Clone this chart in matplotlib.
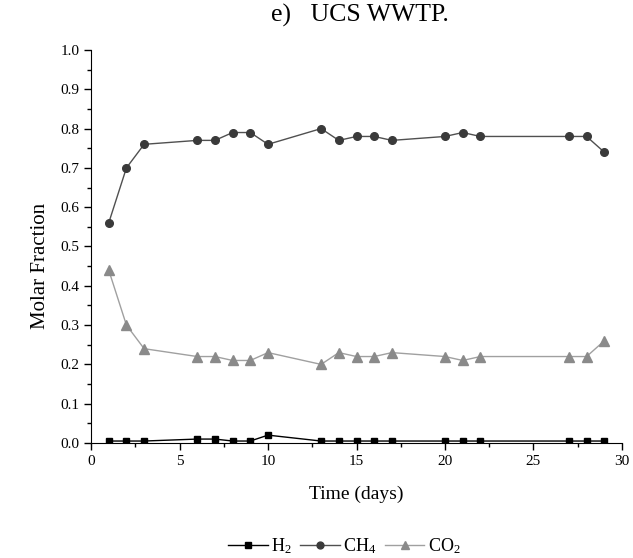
import matplotlib
matplotlib.use("Agg")
import matplotlib.pyplot as plt
from matplotlib.ticker import MultipleLocator

days = [1, 2, 3, 6, 7, 8, 9, 10, 13, 14, 15, 16, 17, 20, 21, 22, 27, 28, 29]
h2 = [0.005, 0.005, 0.005, 0.01, 0.01, 0.005, 0.005, 0.02, 0.005, 0.005, 0.005, 0.005, 0.005,
      0.005, 0.005, 0.005, 0.005, 0.005, 0.005]
ch4 = [0.56, 0.70, 0.76, 0.77, 0.77, 0.79, 0.79, 0.76, 0.80, 0.77, 0.78, 0.78, 0.77,
       0.78, 0.79, 0.78, 0.78, 0.78, 0.74]
co2 = [0.44, 0.30, 0.24, 0.22, 0.22, 0.21, 0.21, 0.23, 0.20, 0.23, 0.22, 0.22, 0.23,
       0.22, 0.21, 0.22, 0.22, 0.22, 0.26]
labels = ["H$_2$", "CH$_4$", "CO$_2$"]

plt.rcParams['font.family'] = ['Liberation Serif', 'DejaVu Serif']
plt.rcParams['mathtext.fontset'] = 'custom'
plt.rcParams['mathtext.rm'] = 'Liberation Serif'
plt.rcParams['mathtext.it'] = 'Liberation Serif:italic'

fig = plt.figure(figsize=(6.33, 5.58), dpi=100)
ax = fig.add_axes([0.1438, 0.2061, 0.8388, 0.7043])

ax.plot(days, h2, '-s', color='black', lw=1, ms=4.5, label=labels[0])
ax.plot(days, ch4, '-o', color='#505050', mfc='#3a3a3a', mec='#3a3a3a', lw=1, ms=5.5, label=labels[1])
ax.plot(days, co2, '-^', color='#a0a0a0', mfc='#8a8a8a', mec='#8a8a8a', lw=1, ms=6.5, label=labels[2])

ax.set_xlim(0, 30)
ax.set_ylim(0, 1.0)
ax.xaxis.set_major_locator(MultipleLocator(5))
ax.xaxis.set_minor_locator(MultipleLocator(2.5))
ax.yaxis.set_major_locator(MultipleLocator(0.1))
ax.yaxis.set_minor_locator(MultipleLocator(0.05))
ax.yaxis.set_major_formatter(plt.FuncFormatter(lambda v, p: f"{v:.1f}"))
for s in ['top', 'right']:
    ax.spines[s].set_visible(False)
ax.tick_params(which='major', direction='out', length=5, width=1, labelsize=11)
ax.tick_params(which='minor', direction='out', length=3, width=1)
ax.set_xlabel("Time (days)", fontsize=14, labelpad=13)
ax.set_ylabel("Molar Fraction", fontsize=15)
ax.yaxis.set_label_coords(-0.077, 0.45)

fig.text(0.568, 0.972, "e)   UCS WWTP.", ha='center', va='center', fontsize=18.5)

fig.legend(loc='center', bbox_to_anchor=(0.544, 0.022), ncol=3, frameon=False,
           fontsize=13, handlelength=2.2, handletextpad=0.2, columnspacing=0.45,
           markerscale=0.9)

fig.savefig("out.png", dpi=100)
